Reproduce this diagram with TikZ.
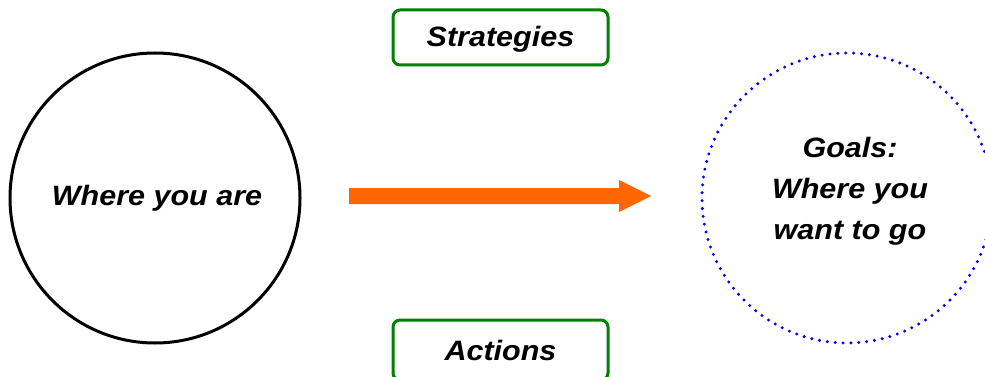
\documentclass[tikz,border=0pt]{standalone}
\usepackage{fontspec}
\setmainfont{Liberation Sans}[FakeStretch=1.09]
\definecolor{boxgreen}{RGB}{0,128,0}
\definecolor{arroworange}{RGB}{255,102,0}
\definecolor{dotblue}{RGB}{0,0,230}
\tikzset{
  lbl/.style={font=\fontsize{28}{41}\selectfont\bfseries\itshape, text=black, align=center},
  plainring/.style={circle, draw=black, line width=3pt, minimum size=290pt, inner sep=0pt},
  dotring/.style={circle, draw=dotblue, line width=3.3pt, dash pattern=on 0pt off 7.9pt, line cap=round, minimum size=290pt, inner sep=0pt},
  greenbox/.style={draw=boxgreen, line width=3pt, rounded corners=7pt, minimum width=215pt, minimum height=55pt, inner sep=0pt}
}
\begin{document}
\begin{tikzpicture}[x=1pt,y=-1pt]
\useasboundingbox (0,0) rectangle (985,377);
\begin{scope}
\clip (0,0) rectangle (985,377);
\node[plainring] (here) at (155,198) {};
\node[lbl] at (157,198) {Where you are};
\node[dotring] (goal) at (847,198) {};
\node[lbl] at (850,191) {Goals:\\Where you\\want to go};
\node[greenbox] (strat) at (500.5,37.5) {};
\node[lbl] at (500.5,39) {Strategies};
\node[greenbox, minimum height=60pt] (act) at (500.5,350) {};
\node[lbl] at (500.5,350) {Actions};
\fill[arroworange] (349,188) -- (619,188) -- (619,180) -- (651,196) -- (619,212) -- (619,204) -- (349,204) -- cycle;
\end{scope}
\end{tikzpicture}
\end{document}
